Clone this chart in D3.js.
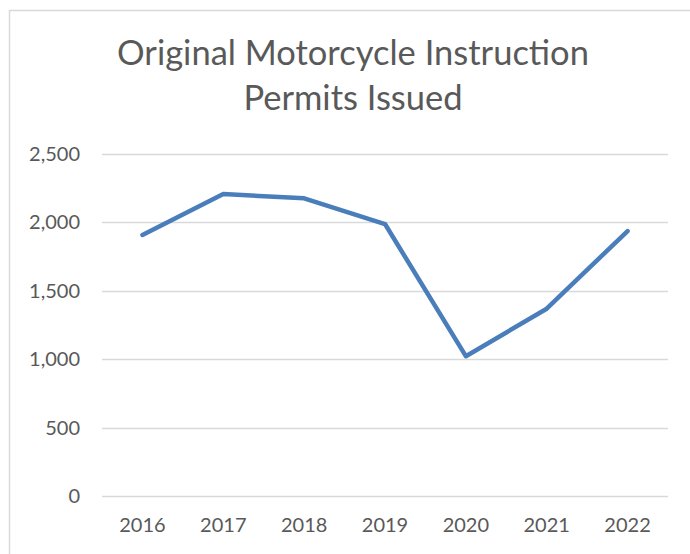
<!DOCTYPE html>
<meta charset="utf-8">
<head>
<script src="https://d3js.org/d3.v7.min.js"></script>
<style>
  body { margin: 0; background: #fff; }
  svg { display: block; font-family: Lato, "Open Sans", sans-serif; }
</style>
</head>
<body>
<svg></svg>
<script>
  // Data
  var years = ["2016", "2017", "2018", "2019", "2020", "2021", "2022"];
  var permits = [1908, 2207, 2176, 1988, 1022, 1369, 1937];
  var yTicks = [0, 500, 1000, 1500, 2000, 2500];
  var titleLines = ["Original Motorcycle Instruction", "Permits Issued"];

  var width = 690, height = 554;
  var svg = d3.select("svg").attr("width", width).attr("height", height);

  // chart frame (only top and left edges are visible in the crop)
  svg.append("path")
    .attr("d", "M9.5,554 V10.5 H690")
    .attr("fill", "none")
    .attr("stroke", "#d9d9d9")
    .attr("stroke-width", 1.5);

  var plotLeft = 102, plotRight = 668, plotTop = 154, plotBottom = 496;

  var x = d3.scaleBand().domain(years).range([plotLeft, plotRight]);
  var y = d3.scaleLinear().domain([0, 2500]).range([plotBottom, plotTop]);

  // title
  svg.append("text")
    .attr("text-anchor", "middle")
    .attr("fill", "#595959")
    .style("font-size", "34.5px")
    .selectAll("tspan")
    .data(titleLines)
    .enter().append("tspan")
    .attr("x", 353)
    .attr("y", function (d, i) { return 65 + i * 45; })
    .text(function (d) { return d; });

  // gridlines
  svg.append("g")
    .selectAll("line")
    .data(yTicks)
    .enter().append("line")
    .attr("x1", plotLeft).attr("x2", plotRight)
    .attr("y1", function (d) { return Math.round(y(d)) + 0.5; })
    .attr("y2", function (d) { return Math.round(y(d)) + 0.5; })
    .attr("stroke", "#d9d9d9")
    .attr("stroke-width", 1.3);

  // y axis labels
  var yAxis = svg.append("g")
    .attr("transform", "translate(80,0)")
    .call(d3.axisLeft(y).tickValues(yTicks).tickFormat(d3.format(",")).tickSize(0).tickPadding(0));
  yAxis.select(".domain").remove();
  yAxis.selectAll("text")
    .attr("fill", "#595959")
    .style("font-size", "20px")
    .style("font-family", "Lato, 'Open Sans', sans-serif");

  // x axis labels
  var xAxis = svg.append("g")
    .attr("transform", "translate(0," + plotBottom + ")")
    .call(d3.axisBottom(x).tickSize(0).tickPadding(22));
  xAxis.select(".domain").remove();
  xAxis.selectAll("text")
    .attr("fill", "#595959")
    .style("font-size", "20px")
    .style("font-family", "Lato, 'Open Sans', sans-serif");

  // line
  var line = d3.line()
    .x(function (d, i) { return x(years[i]) + x.bandwidth() / 2; })
    .y(function (d) { return y(d); });

  svg.append("path")
    .datum(permits)
    .attr("d", line)
    .attr("fill", "none")
    .attr("stroke", "#4a7ebb")
    .attr("stroke-width", 4.5)
    .attr("stroke-linejoin", "round")
    .attr("stroke-linecap", "round");
</script>
</body>
</html>
